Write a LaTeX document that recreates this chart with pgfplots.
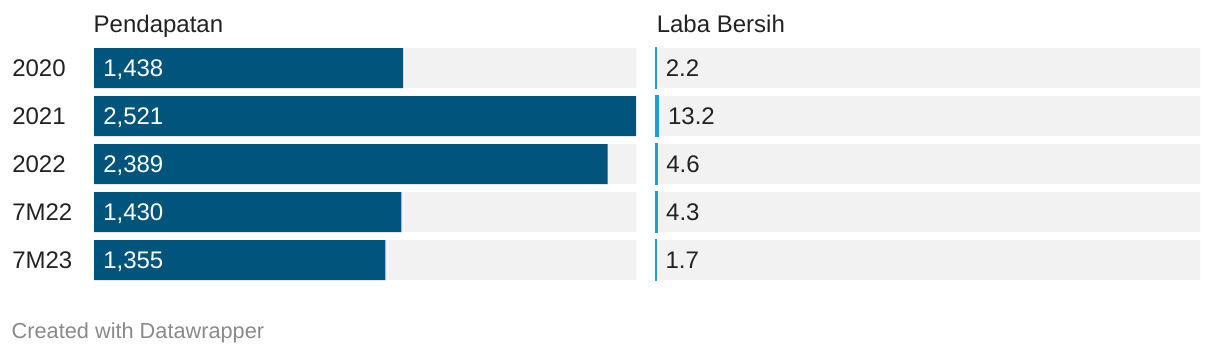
\documentclass[border=0pt]{standalone}
\usepackage{pgfplots}
\pgfplotsset{compat=1.18}
\usepackage{pgfplotstable}
\usepackage{fontspec}
\setmainfont{Liberation Sans}
\definecolor{dwblue}{HTML}{01557C}
\definecolor{dwlight}{HTML}{1BA1CD}
\definecolor{dwgray}{HTML}{F2F2F2}
\definecolor{dwtext}{HTML}{222222}
\definecolor{dwfoot}{HTML}{8A8A8A}

\pgfplotstableread{
idx rev revlab net netlab full zero
0 1438 1,438 2.2 2.2 2521 0
1 2521 2,521 13.2 13.2 2521 0
2 2389 2,389 4.6 4.6 2521 0
3 1430 1,430 4.3 4.3 2521 0
4 1355 1,355 1.7 1.7 2521 0
}\data

\pgfplotsset{panel/.style={
  scale only axis, height=174pt, xmin=0, xmax=2521,
  ymin=-0.41667, ymax=4.41667, y dir=reverse,
  axis line style={draw=none}, tick style={draw=none},
  xtick=\empty, clip=false,
  anchor=south west}}

\newcommand{\lab}{\fontsize{18}{20}\selectfont}

\begin{document}
\begin{tikzpicture}
\useasboundingbox (0pt,0pt) rectangle (915pt,-267pt);

\begin{axis}[panel, at={(70.5pt,-210pt)}, width=406.5pt,
  ytick={0,1,2,3,4}, yticklabels={2020,2021,2022,7M22,7M23},
  yticklabel style={anchor=west, inner sep=0pt, xshift=-61.5pt, font=\lab, text=dwtext}]
\addplot[xbar, bar shift=0pt, bar width=30pt, fill=dwgray, draw=none] table[x=full,y=idx]{\data};
\addplot[xbar, bar shift=0pt, bar width=30pt, fill=dwblue, draw=none] table[x=rev,y=idx]{\data};
\addplot[draw=none, mark=none, nodes near coords, point meta=explicit symbolic,
  every node near coord/.append style={anchor=base west, inner sep=0pt, xshift=6.75pt, yshift=-6.45pt, text=white, font=\lab}]
  table[x=zero,y=idx,meta=revlab]{\data};
\end{axis}

\begin{axis}[panel, at={(492pt,-210pt)}, width=408pt, ytick=\empty]
\addplot[xbar, bar shift=0pt, bar width=30pt, fill=dwgray, draw=none] table[x=full,y=idx]{\data};
\addplot[xbar, bar shift=0pt, bar width=30pt, fill=dwlight, draw=dwlight, line width=0.9pt,
  nodes near coords, point meta=explicit symbolic,
  every node near coord/.append style={anchor=base west, inner sep=0pt, xshift=6.5pt, yshift=-6.45pt, text=dwtext, font=\lab}]
  table[x=net,y=idx,meta=netlab]{\data};
\end{axis}

\node[anchor=base west, inner sep=0pt, font=\lab, text=dwtext] at (70.1pt,-24.4pt) {Pendapatan};
\node[anchor=base west, inner sep=0pt, font=\lab, text=dwtext] at (492.4pt,-24.4pt) {Laba Bersih};
\node[anchor=base west, inner sep=0pt, font=\fontsize{16.3}{18}\selectfont, text=dwfoot] at (8.6pt,-253.5pt) {Created with Datawrapper};
\end{tikzpicture}
\end{document}
